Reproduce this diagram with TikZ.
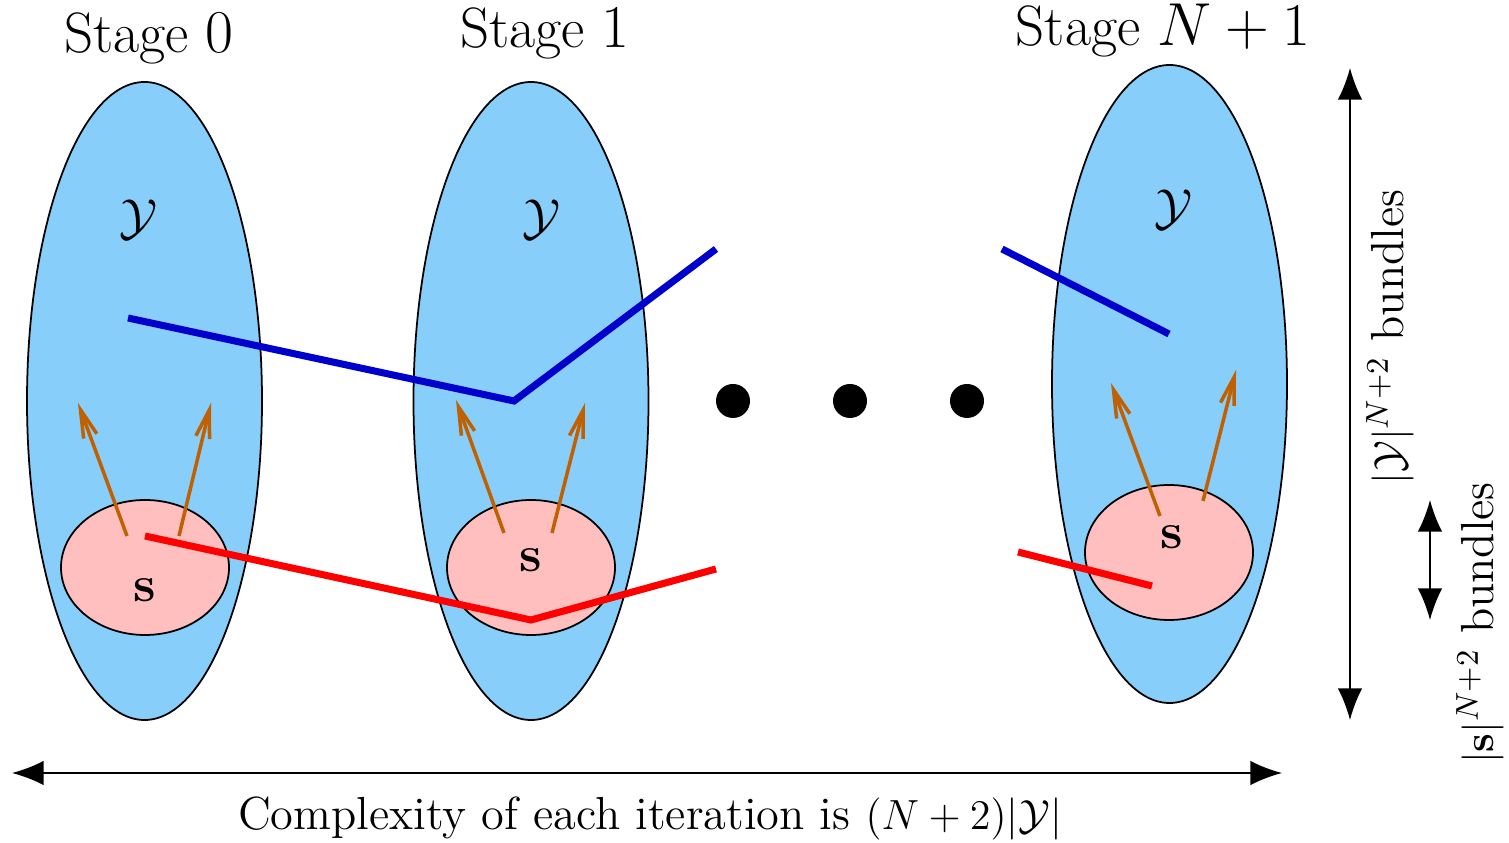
\documentclass[tikz,border=0pt]{standalone}
\usepackage{amsmath,amssymb}
\usepackage{tikz}
\usetikzlibrary{arrows.meta,positioning,shapes.geometric,calc}
\definecolor{setblue}{HTML}{87CEFA}
\definecolor{subpink}{HTML}{FFBFBF}
\definecolor{pathblue}{HTML}{0000CC}
\definecolor{pathred}{HTML}{FF0000}
\definecolor{moveorange}{HTML}{C06000}
\tikzset{
  bigset/.style={fill=setblue,draw=black,line width=0.5pt},
  subset/.style={fill=subpink,draw=black,line width=0.5pt},
  bluepath/.style={pathblue,line width=2pt},
  redpath/.style={pathred,line width=2pt},
  move/.style={moveorange,line width=1pt,-{Straight Barb[length=8pt,width=4pt]}},
  measure/.style={black,line width=0.5pt,{Latex[length=9pt,width=7pt]}-{Latex[length=9pt,width=7pt]}},
  stagefont/.style={font=\fontsize{16.2}{19}\selectfont},
  notefont/.style={font=\fontsize{13.2}{16}\selectfont},
}
\begin{document}
\begin{tikzpicture}
  \useasboundingbox (0,0) rectangle (15.09,8.43);

  % the stages
  \draw[bigset] (1.445,4.42) ellipse (1.175 and 3.19);
  \draw[bigset] (5.31,4.42) ellipse (1.175 and 3.19);
  \draw[bigset] (11.695,4.59) ellipse (1.175 and 3.19);

  \draw[subset] (1.45,2.755) ellipse (0.84 and 0.675);
  \draw[subset] (5.31,2.755) ellipse (0.84 and 0.675);
  \draw[subset] (11.69,2.905) ellipse (0.84 and 0.675);

  \node[font=\fontsize{15}{18}\selectfont] (y0) at (1.38,6.23) {$\mathcal{Y}$};
  \node[font=\fontsize{15}{18}\selectfont] (y1) at (5.41,6.23) {$\mathcal{Y}$};
  \node[font=\fontsize{15}{18}\selectfont] (y2) at (11.73,6.33) {$\mathcal{Y}$};

  \node (s0) at (1.45,2.53) {\Large $\mathbf{s}$};
  \node (s1) at (5.31,2.83) {\Large $\mathbf{s}$};
  \node (s2) at (11.72,3.06) {\Large $\mathbf{s}$};

  \node[stagefont,anchor=base] (st0) at (1.49,7.90) {Stage $0$};
  \node[stagefont,anchor=base] (st1) at (5.45,7.95) {Stage $1$};
  \node[stagefont,anchor=base] (st2) at (11.63,7.97) {Stage $N+1$};

  % blue and red paths
  \coordinate (b0) at (1.28,5.25);
  \coordinate (b1) at (5.14,4.42);
  \coordinate (b2) at (7.16,5.94);
  \coordinate (b3) at (10.02,5.94);
  \coordinate (b4) at (11.69,5.09);
  \draw[bluepath] (b0) -- (b1) -- (b2);
  \draw[bluepath] (b3) -- (b4);

  \coordinate (r0) at (1.45,3.07);
  \coordinate (r1) at (5.31,2.23);
  \coordinate (r2) at (7.16,2.74);
  \coordinate (r3) at (10.18,2.91);
  \coordinate (r4) at (11.52,2.57);
  \draw[redpath] (r0) -- (r1) -- (r2);
  \draw[redpath] (r3) -- (r4);

  % moves out of s
  \coordinate (m0a) at (1.27,3.07);  \coordinate (n0a) at (0.78,4.40);
  \coordinate (m0b) at (1.79,3.07);  \coordinate (n0b) at (2.11,4.40);
  \coordinate (m1a) at (5.04,3.10);  \coordinate (n1a) at (4.56,4.43);
  \coordinate (m1b) at (5.52,3.10);  \coordinate (n1b) at (5.85,4.40);
  \coordinate (m2a) at (11.60,3.27); \coordinate (n2a) at (11.11,4.60);
  \coordinate (m2b) at (12.03,3.42); \coordinate (n2b) at (12.36,4.73);
  \foreach \i in {0,1,2} {
    \draw[move] (m\i a) -- (n\i a);
    \draw[move] (m\i b) -- (n\i b);
  }

  % dots
  \foreach \x in {7.33,8.50,9.67}
    \fill (\x,4.42) circle (0.17);

  % measures
  \coordinate (vtop) at (13.50,7.75);
  \coordinate (vbot) at (13.50,1.23);
  \draw[measure] (vtop) -- (vbot);
  \node[notefont,rotate=90] (ylab) at (13.90,5.06) {$|\mathcal{Y}|^{N+2}$ bundles};

  \coordinate (wtop) at (14.30,3.43);
  \coordinate (wbot) at (14.30,2.23);
  \draw[measure] (wtop) -- (wbot);
  \node[notefont,rotate=90] (slab) at (14.80,2.20) {$|\mathbf{s}|^{N+2}$ bundles};

  \coordinate (hl) at (0.12,0.70);
  \coordinate (hr) at (12.82,0.70);
  \draw[measure] (hl) -- (hr);
  \node[notefont] (clab) at (6.50,0.25) {Complexity of each iteration is $(N+2)|\mathcal{Y}|$};
\end{tikzpicture}
\end{document}
